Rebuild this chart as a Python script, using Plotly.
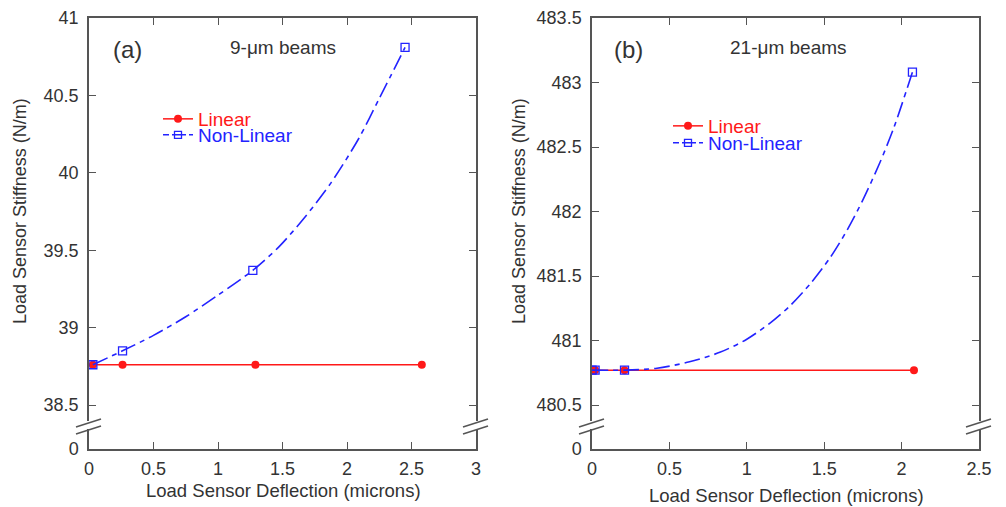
import plotly.graph_objects as go

# ---------------- data ----------------
# Panel (a): 9-um beams
a_lin_x = [0.03, 0.26, 1.29, 2.58]
a_lin_y = [38.76, 38.76, 38.76, 38.76]
a_nl_x = [0.03, 0.26, 1.27, 2.45]
a_nl_y = [38.76, 38.85, 39.37, 40.81]
a_curve_x = [0.03, 0.26, 0.50, 0.75, 1.00, 1.27, 1.47, 1.67, 1.88, 2.09, 2.25, 2.45]
a_curve_y = [38.76, 38.85, 38.95, 39.07, 39.21, 39.37, 39.52, 39.71, 39.94, 40.22, 40.48, 40.81]
a_yticks = [38.5, 39, 39.5, 40, 40.5, 41]
a_xticks = [0, 0.5, 1, 1.5, 2, 2.5, 3]

# Panel (b): 21-um beams
b_lin_x = [0.0, 0.02, 0.21, 2.08]
b_lin_y = [480.77, 480.77, 480.77, 480.77]
b_nl_x = [0.0, 0.02, 0.21, 2.07]
b_nl_y = [480.77, 480.77, 480.77, 483.08]
b_curve_x = [0.0, 0.21, 0.42, 0.63, 0.83, 1.00, 1.15, 1.28, 1.41, 1.54, 1.65, 1.75, 1.86, 1.95, 2.07]
b_curve_y = [480.77, 480.77, 480.785, 480.835, 480.91, 481.01, 481.135, 481.27, 481.44,
             481.645, 481.86, 482.09, 482.38, 482.65, 483.08]
b_yticks = [480.5, 481, 481.5, 482, 482.5, 483, 483.5]
b_xticks = [0, 0.5, 1, 1.5, 2, 2.5]

break_label = "0"
series_names = ["Linear", "Non-Linear"]

# ---------------- styling ----------------
OFF = 8                      # page body margin of the html page
W, H = 1006 - OFF, 507 - OFF
FONT = "Liberation Sans, Arial, sans-serif"
RED = "rgb(255,25,25)"
BLUE = "rgb(35,35,255)"
AX = "#555555"
TXT = "#333333"
DASH = "16px,5px,5px,5px"
LEG_FONT = 19


def px(x):
    return (x - OFF) / W


def py(y):
    return 1 - (y - OFF) / H


fig = go.Figure()


def add_panel(xa, ya, lx, ly, nx, ny, cx, cy, leg_lin, leg_nl):
    fig.add_trace(go.Scatter(x=lx, y=ly, mode="lines+markers",
                             name=f'<span style="color:{RED}">{series_names[0]}</span>',
                             line=dict(color=RED, width=1.5), marker=dict(color=RED, size=8, symbol="circle"),
                             xaxis=xa, yaxis=ya, legend=leg_lin, showlegend=True))
    fig.add_trace(go.Scatter(x=cx, y=cy, mode="lines",
                             line=dict(color=BLUE, width=1.6, dash=DASH, shape="spline", smoothing=0.8),
                             xaxis=xa, yaxis=ya, showlegend=False, hoverinfo="skip"))
    fig.add_trace(go.Scatter(x=nx, y=ny, mode="markers",
                             marker=dict(color=BLUE, size=8, symbol="square-open",
                                         line=dict(color=BLUE, width=1.3)),
                             xaxis=xa, yaxis=ya, showlegend=False))
    fig.add_trace(go.Scatter(x=[None], y=[None], mode="lines+markers",
                             name=f'<span style="color:{BLUE}">{series_names[1]}</span>',
                             line=dict(color=BLUE, width=1.5, dash="6px,3px,14px,3px"),
                             marker=dict(color=BLUE, size=7, symbol="square-open", line=dict(color=BLUE, width=1.3)),
                             xaxis=xa, yaxis=ya, legend=leg_nl, showlegend=True))


add_panel("x", "y", a_lin_x, a_lin_y, a_nl_x, a_nl_y, a_curve_x, a_curve_y, "legend", "legend2")
add_panel("x2", "y2", b_lin_x, b_lin_y, b_nl_x, b_nl_y, b_curve_x, b_curve_y, "legend3", "legend4")

# plot box geometry in pixels (of the 1006x507 page)
TOP, BOT = 18, 449
A_L, A_R = 89, 476
B_L, B_R = 592, 979

# y ranges: the bottom of the box is the broken "0" level
a_bot = a_yticks[0] - (BOT - 405) / ((405 - TOP) / (a_yticks[-1] - a_yticks[0]))
b_bot = b_yticks[0] - (BOT - 405) / ((405 - TOP) / (b_yticks[-1] - b_yticks[0]))

common_axis = dict(showline=True, linecolor=AX, linewidth=1.5, mirror="ticks", ticks="inside",
                   ticklen=7, tickwidth=1.3, tickcolor=AX, showgrid=False, zeroline=False,
                   tickfont=dict(family=FONT, size=18, color=TXT), automargin=False)


def fmt(v):
    return ("%g" % v)


def leg(x, ycenter):
    return dict(x=px(x), y=py(ycenter - LEG_FONT), xanchor="left", yanchor="top", bgcolor="rgba(0,0,0,0)",
                font=dict(family=FONT, size=LEG_FONT), tracegroupgap=0, itemclick=False, itemdoubleclick=False)


fig.update_layout(
    width=W, height=H, margin=dict(l=0, r=0, t=0, b=0),
    paper_bgcolor="white", plot_bgcolor="white",
    xaxis=dict(domain=[px(A_L), px(A_R)], range=[a_xticks[0], a_xticks[-1]], tickvals=a_xticks,
               ticktext=[fmt(v) for v in a_xticks], anchor="y", ticklabelstandoff=3, **common_axis),
    yaxis=dict(domain=[py(BOT), py(TOP)], range=[a_bot, a_yticks[-1]], tickvals=[a_bot] + a_yticks,
               ticktext=[break_label] + [fmt(v) for v in a_yticks], anchor="x", ticklabelstandoff=5, **common_axis),
    xaxis2=dict(domain=[px(B_L), px(B_R)], range=[b_xticks[0], b_xticks[-1]], tickvals=b_xticks,
                ticktext=[fmt(v) for v in b_xticks], anchor="y2", ticklabelstandoff=3, **common_axis),
    yaxis2=dict(domain=[py(BOT), py(TOP)], range=[b_bot, b_yticks[-1]], tickvals=[b_bot] + b_yticks,
                ticktext=[break_label] + [fmt(v) for v in b_yticks], anchor="x2", ticklabelstandoff=5, **common_axis),
    legend=leg(158, 119),
    legend2=leg(158, 135),
    legend3=leg(668, 126),
    legend4=leg(668, 143),
    showlegend=True,
)

# annotations: panel labels, titles and axis titles
ann = []


def text(x, y, s, size=17, angle=0):
    ann.append(dict(x=px(x), y=py(y), xref="paper", yref="paper", text=s, showarrow=False,
                    font=dict(family=FONT, size=size, color=TXT), textangle=angle,
                    xanchor="center", yanchor="middle"))


text(127, 50, "(a)", 24)
text(283, 48, "9-μm beams", 19)
text(628, 50, "(b)", 24)
text(788, 48, "21-μm beams", 19)
text(283, 490, "Load Sensor Deflection (microns)", 18.5)
text(786, 495, "Load Sensor Deflection (microns)", 18.5)
text(20, 211, "Load Sensor Stiffness (N/m)", 18, -90)
text(519, 211, "Load Sensor Stiffness (N/m)", 18, -90)
fig.update_layout(annotations=ann)

# axis-break marks (white gap + double slash) on each vertical axis
shapes = []
for axx in (A_L, A_R, B_L, B_R):
    shapes.append(dict(type="rect", xref="paper", yref="paper", x0=px(axx - 3), x1=px(axx + 3),
                       y0=py(429), y1=py(421), fillcolor="white", line=dict(width=0), layer="above"))
    for off in (0, 7):
        shapes.append(dict(type="line", xref="paper", yref="paper", x0=px(axx - 13), y0=py(427 + off),
                           x1=px(axx + 12), y1=py(419 + off), line=dict(color=AX, width=1.5), layer="above"))
fig.update_layout(shapes=shapes)

fig.write_html("out.html")
